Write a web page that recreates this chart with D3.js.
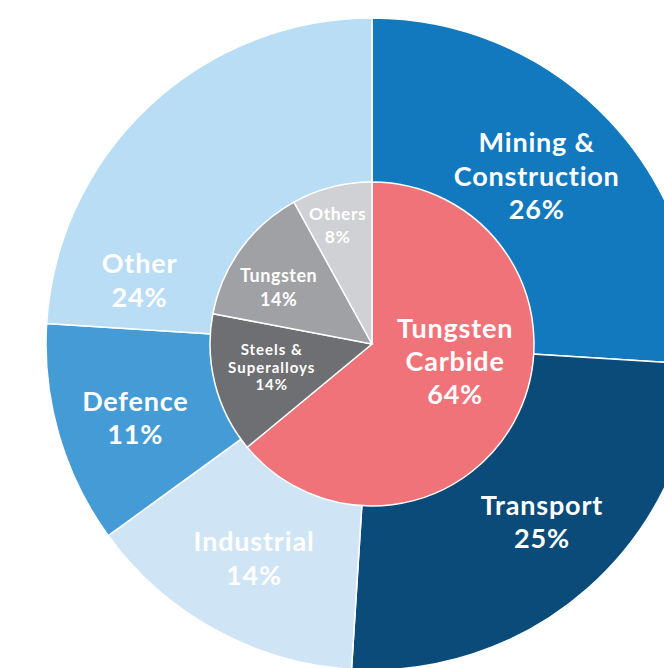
<!DOCTYPE html>
<html>
<head>
<meta charset="utf-8">
<script src="https://cdn.jsdelivr.net/npm/d3@7"></script>
<style>
  body { margin: 0; background: #fff; }
  text { font-family: Lato, "Open Sans", sans-serif; font-weight: bold; fill: #fff; }
</style>
</head>
<body>
<svg width="664" height="668"></svg>
<script>
// outer ring: end uses
var useNames = ["Mining &\nConstruction", "Transport", "Industrial", "Defence", "Other"];
var useValues = [26, 25, 14, 11, 24];
var useColors = ["#1279bf", "#0b4b79", "#cfe5f5", "#459bd5", "#b8ddf5"];

// inner pie: product forms
var formNames = ["Tungsten\nCarbide", "Steels &\nSuperalloys", "Tungsten", "Others"];
var formValues = [64, 14, 14, 8];
var formColors = ["#f0737a", "#6e6f72", "#a0a1a5", "#d0d1d4"];

var svg = d3.select("svg"),
    cx = 372, cy = 344,
    rOuter = 326,
    rInner = 162;

var g = svg.append("g").attr("transform", "translate(" + cx + "," + cy + ")");

var pie = d3.pie().sort(null).value(function(d) { return d; });

var outerArc = d3.arc().innerRadius(0).outerRadius(rOuter);
var innerArc = d3.arc().innerRadius(0).outerRadius(rInner);

var outerData = pie(useValues);
var innerData = pie(formValues);

g.append("g").selectAll("path")
    .data(outerData)
    .enter().append("path")
    .attr("d", outerArc)
    .attr("fill", function(d, i) { return useColors[i]; })
    .attr("stroke", "#fff")
    .attr("stroke-width", 1.5);

g.append("g").selectAll("path")
    .data(innerData)
    .enter().append("path")
    .attr("d", innerArc)
    .attr("fill", function(d, i) { return formColors[i]; })
    .attr("stroke", "#fff")
    .attr("stroke-width", 1.5);

// label placement helper: angle tweak (rad) + radius
function place(d, r, dAng) {
    var a = (d.startAngle + d.endAngle) / 2 + (dAng || 0);
    return [Math.sin(a) * r, -Math.cos(a) * r];
}

function addLabel(pos, lines, size, lh, ls) {
    var t = g.append("text")
        .attr("text-anchor", "middle")
        .attr("font-size", size)
        .attr("letter-spacing", ls);
    var n = lines.length;
    lines.forEach(function(s, k) {
        t.append("tspan")
            .attr("x", pos[0])
            .attr("y", pos[1] + (k - (n - 1) / 2) * lh)
            .attr("dy", "0.35em")
            .text(s);
    });
}

// outer labels
var outerTweak = [[235, -0.04], [246, -0.04], [245, 0], [248, -0.02], [241, -0.55]];
outerData.forEach(function(d, i) {
    var lines = useNames[i].split("\n").concat([useValues[i] + "%"]);
    addLabel(place(d, outerTweak[i][0], outerTweak[i][1]), lines, 27, 33.5, 0.8);
});

// inner labels
var innerTweak = [[85, -0.23], [103, 0.02], [109, -0.087], [124, -0.03]];
var innerSize = [27, 15, 18, 17.5];
var innerLh = [33, 17.5, 24, 23];
var innerLs = [0.8, 1, 0.5, 0.5];
innerData.forEach(function(d, i) {
    var lines = formNames[i].split("\n").concat([formValues[i] + "%"]);
    addLabel(place(d, innerTweak[i][0], innerTweak[i][1]), lines, innerSize[i], innerLh[i], innerLs[i]);
});
</script>
</body>
</html>
